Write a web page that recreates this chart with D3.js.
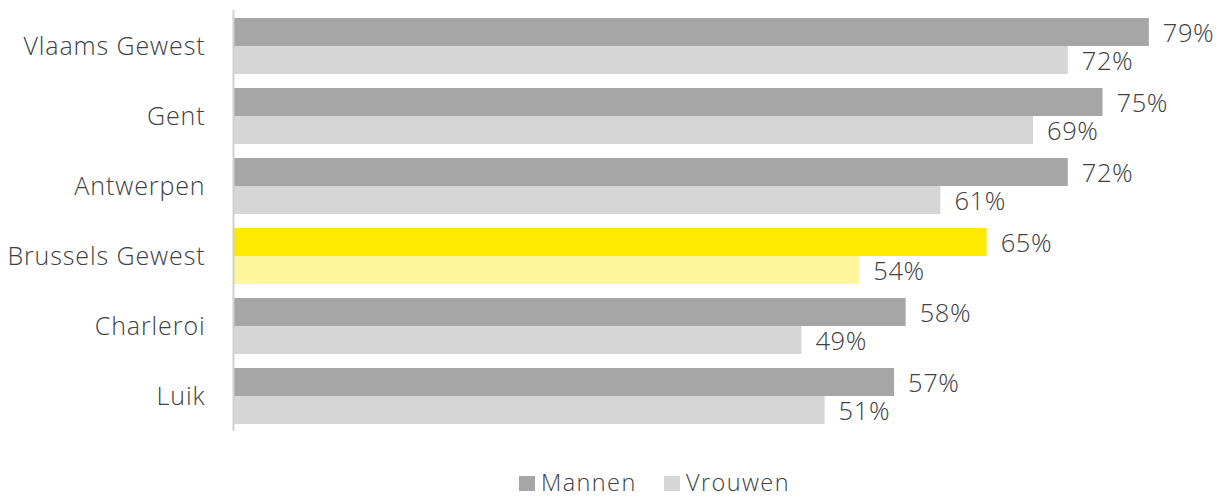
<!DOCTYPE html>
<html>
<head>
<meta charset="utf-8">
<script src="https://cdn.jsdelivr.net/npm/d3@7"></script>
<style>
  html, body { margin: 0; padding: 0; background: #fff; }
  svg text { font-family: "Open Sans", "Noto Sans", sans-serif; font-weight: 300; fill: #404040; }
</style>
</head>
<body>
<svg id="chart" width="1227" height="497"></svg>
<script>
// Werkzaamheidsgraad per regio/stad, mannen en vrouwen (%)
const categories = ["Vlaams Gewest", "Gent", "Antwerpen", "Brussels Gewest", "Charleroi", "Luik"];
const seriesNames = ["Mannen", "Vrouwen"];
const mannen = [79, 75, 72, 65, 58, 57];
const vrouwen = [72, 69, 61, 54, 49, 51];
const highlight = "Brussels Gewest";

const colors = { Mannen: "#a6a6a6", Vrouwen: "#d6d6d6" };
const highlightColors = { Mannen: "#ffe900", Vrouwen: "#fff59d" };

const svg = d3.select("#chart");
const margin = { left: 234, top: 11, bottom: 66 };
const height = 497;

const x = d3.scaleLinear().domain([0, 100]).range([margin.left, margin.left + 1158]);
const y = d3.scaleBand().domain(categories).range([margin.top, height - margin.bottom]).paddingInner(0.2).paddingOuter(0.1);
const ySub = d3.scaleBand().domain(seriesNames).range([0, y.bandwidth()]);

const rows = categories.map((c, i) => ({ cat: c, values: [
  { s: "Mannen", v: mannen[i] }, { s: "Vrouwen", v: vrouwen[i] }
]}));

const g = svg.selectAll("g.row").data(rows).join("g")
  .attr("class", "row")
  .attr("transform", d => `translate(0,${y(d.cat)})`);

g.selectAll("rect").data(d => d.values.map(v => ({ ...v, cat: d.cat }))).join("rect")
  .attr("x", x(0))
  .attr("y", d => ySub(d.s))
  .attr("width", d => x(d.v) - x(0))
  .attr("height", ySub.bandwidth())
  .attr("fill", d => d.cat === highlight ? highlightColors[d.s] : colors[d.s]);

g.selectAll("text.val").data(d => d.values).join("text")
  .attr("class", "val")
  .attr("x", d => x(d.v) + 14)
  .attr("y", d => ySub(d.s) + ySub.bandwidth() / 2 + 9.5)
  .attr("font-size", 25.5)
  .attr("letter-spacing", 0.6)
  .text(d => d.v + "%");

// category axis
const axis = d3.axisLeft(y).tickSize(0).tickPadding(28);
const ax = svg.append("g").attr("transform", `translate(${x(0) - 0.5},0)`).call(axis);
ax.select(".domain").attr("stroke", "#d0d0d0").attr("stroke-width", 2)
  .attr("d", `M0,${margin.top - 1}V${height - margin.bottom}`);
ax.selectAll(".tick text")
  .attr("font-size", 25)
  .attr("letter-spacing", 0.9)
  .attr("font-family", null)
  .attr("fill", null)
  .attr("dy", null)
  .attr("y", 9);

// legend
const legendItems = [
  { s: "Mannen", x: 519 },
  { s: "Vrouwen", x: 664 }
];
const lg = svg.append("g").selectAll("g").data(legendItems).join("g")
  .attr("transform", d => `translate(${d.x},476)`);
lg.append("rect").attr("width", 16).attr("height", 15).attr("fill", d => colors[d.s]);
lg.append("text").attr("x", 22).attr("y", 15)
  .attr("font-size", 23.5).attr("letter-spacing", 1.4).text(d => d.s);
</script>
</body>
</html>
